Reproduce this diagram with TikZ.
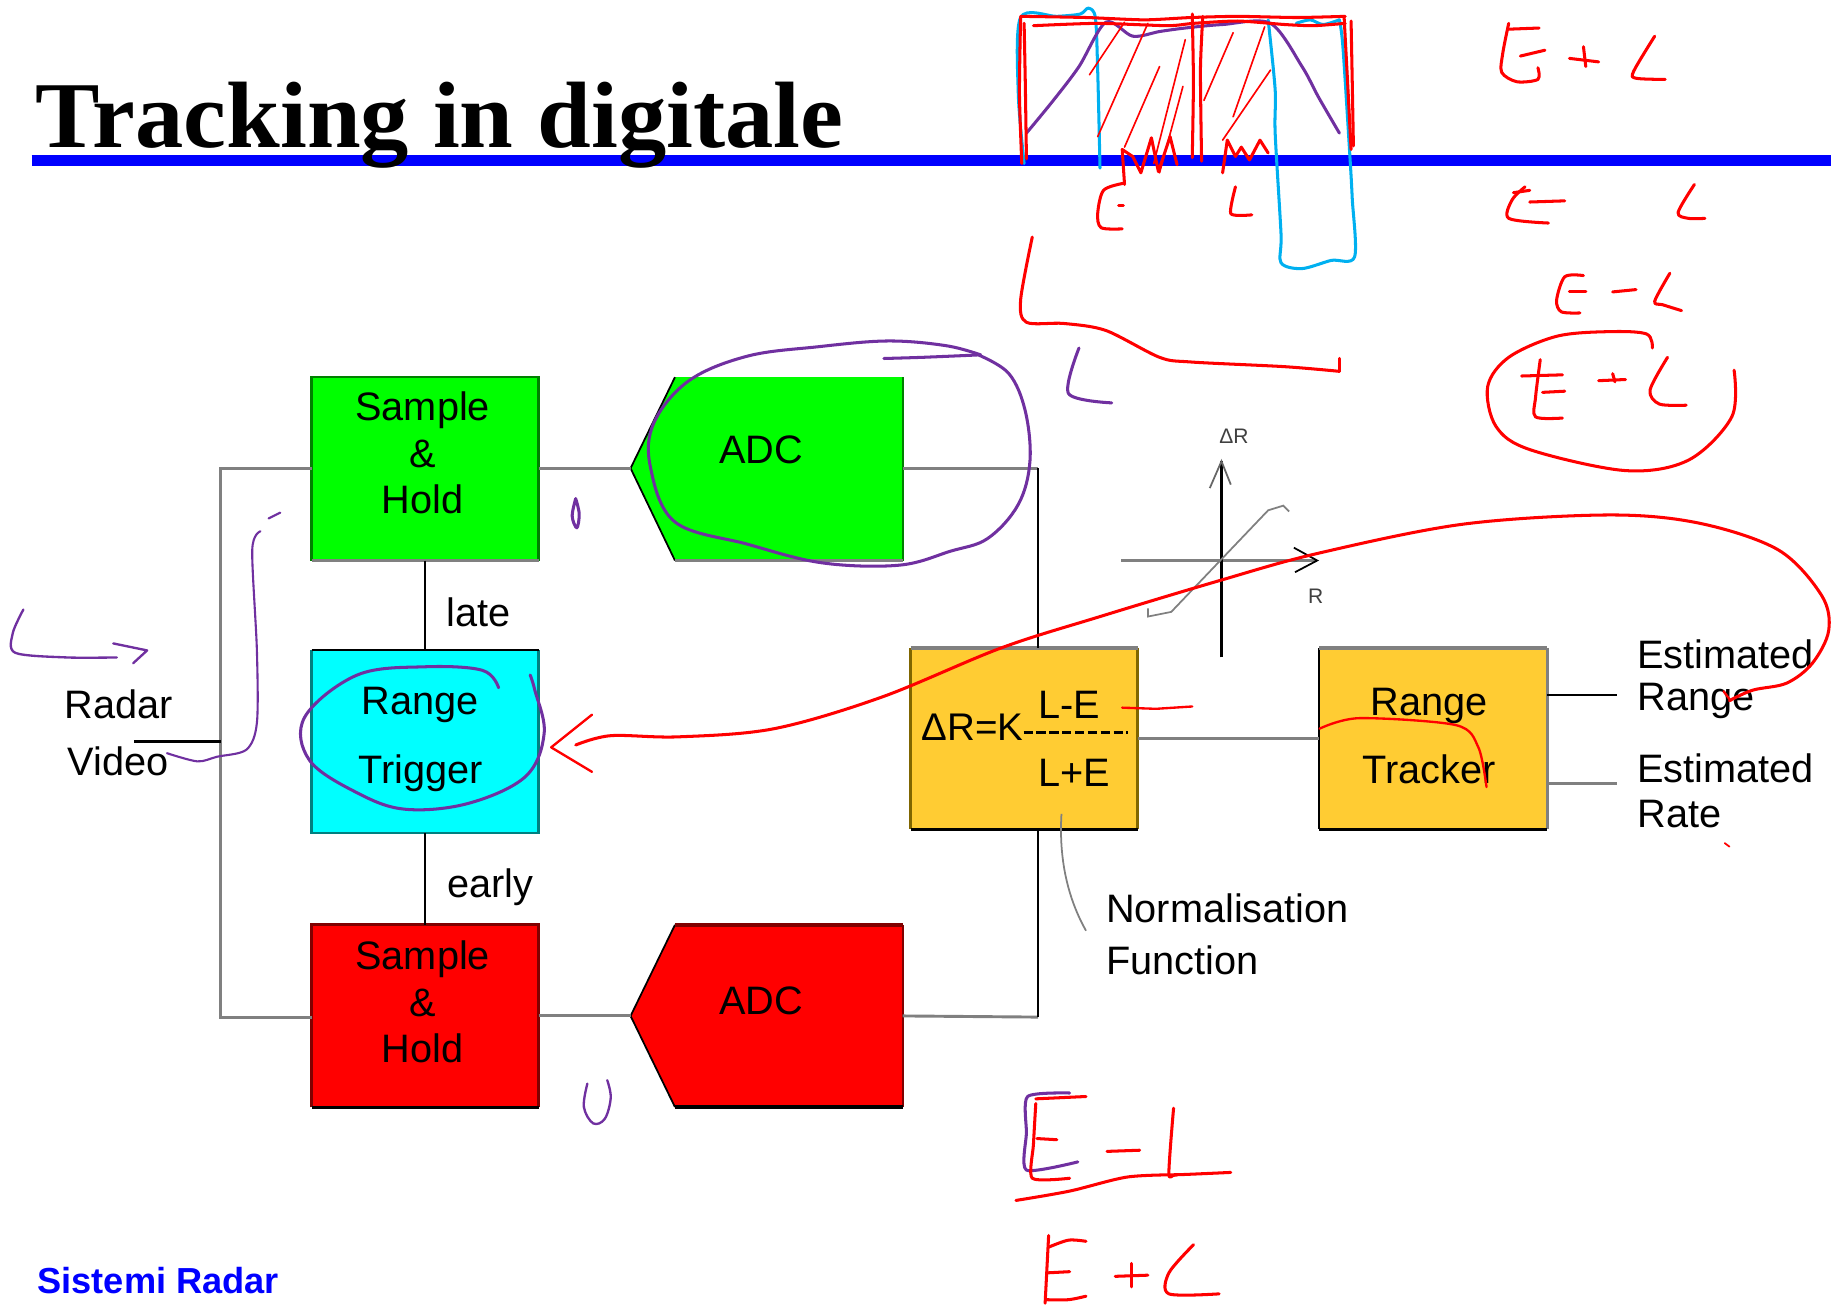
\documentclass[tikz,border=0pt]{standalone}
\usepackage{fontspec}
\setmainfont{Liberation Sans}
\newfontfamily\titlefont{Liberation Serif}
\usepackage{graphicx}
\definecolor{boxgreen}{RGB}{0,255,0}
\definecolor{dkgreen}{RGB}{0,128,0}
\definecolor{boxcyan}{RGB}{0,255,255}
\definecolor{dkteal}{RGB}{0,128,128}
\definecolor{boxred}{RGB}{255,0,0}
\definecolor{dkred}{RGB}{128,0,0}
\definecolor{boxyellow}{RGB}{255,204,51}
\definecolor{dkgold}{RGB}{128,102,0}
\definecolor{lgrey}{RGB}{128,128,128}
\definecolor{titleblue}{RGB}{0,0,255}
\definecolor{penred}{RGB}{255,0,0}
\definecolor{penpurple}{RGB}{112,48,160}
\definecolor{pencyan}{RGB}{0,176,240}
\begin{document}
\begin{tikzpicture}[x=1pt,y=-1pt,
  lbl/.style={font=\fontsize{34}{40}\selectfont, inner sep=0pt, align=center},
  lblw/.style={font=\fontsize{34}{40}\selectfont, inner sep=0pt, anchor=west},
  small/.style={font=\fontsize{18}{20}\selectfont, inner sep=0pt, text=black!75},
  boxshape/.style={draw=none, minimum width=194pt, inner sep=0pt},
  greyline/.style={draw=lgrey, line width=2.5pt},
  blackline/.style={draw=black, line width=2pt},
  thingrey/.style={draw=lgrey, line width=1.5pt},
  redpen/.style={draw=penred, line width=2.6pt, line cap=round, line join=round},
  purplepen/.style={draw=penpurple, line width=2.6pt, line cap=round, line join=round},
  cyanpen/.style={draw=pencyan, line width=2.6pt, line cap=round, line join=round}]
\useasboundingbox (0,0) rectangle (1568,1118);
\clip (0,0) rectangle (1568,1118);
\fill[white] (0,0) rectangle (1568,1118);

% ---------- title ----------
\draw[titleblue, line width=9pt] (27,137.5) -- (1568,137.5);
\node[anchor=base west, inner sep=0pt] (title) at (30,126)
  {\resizebox{692pt}{56pt}{\titlefont\bfseries Tracking in digitale}};
\node[anchor=base west, inner sep=0pt, font=\fontsize{31}{36}\selectfont\bfseries, text=titleblue] (footer) at (32,1108) {Sistemi Radar};

% ---------- boxes ----------
\node[boxshape, fill=boxgreen, minimum height=157pt] (sh1) at (364,401.5) {};
\draw[dkgreen, line width=2pt] (sh1.south west) -- (sh1.north west) -- (sh1.north east) -- (sh1.south east);
\draw[lgrey, line width=3pt] (sh1.south west) -- (sh1.south east);

\node[boxshape, fill=boxcyan, minimum height=156pt] (rt) at (364,635) {};
\draw[dkteal, line width=2pt] (rt.north west) -- (rt.south west) -- (rt.south east) -- (rt.north east);
\draw[black, line width=2pt] (rt.north west) -- (rt.north east);

\node[boxshape, fill=boxred, minimum height=156pt] (sh2) at (364,870) {};
\draw[dkred, line width=2pt] (sh2.south west) -- (sh2.north west) -- (sh2.north east) -- (sh2.south east);
\draw[dkred, line width=3pt] (sh2.north west) -- (sh2.north east);
\draw[black, line width=3pt] (sh2.south west) -- (sh2.south east);

% ADC green
\coordinate (adc1tip) at (540,401);
\coordinate (adc1r) at (773,401);
\fill[boxgreen] (adc1tip) -- (578,323) -- (773,323) -- (773,480) -- (578,480) -- cycle;
\draw[black, line width=1.5pt] (578,323) -- (adc1tip) -- (578,480);
\draw[dkgreen, line width=2pt] (773,323) -- (773,480);
\draw[lgrey, line width=3pt] (578,480) -- (773,480);
% ADC red
\coordinate (adc2tip) at (540,870);
\coordinate (adc2r) at (773,870);
\fill[boxred] (adc2tip) -- (578,792) -- (773,792) -- (773,948) -- (578,948) -- cycle;
\draw[black, line width=1.5pt] (578,792) -- (adc2tip) -- (578,948);
\draw[dkred, line width=3pt] (578,792) -- (773,792);
\draw[dkred, line width=2pt] (773,792) -- (773,948);
\draw[black, line width=3pt] (578,948) -- (773,948);

% normalisation box
\node[boxshape, fill=boxyellow, minimum height=155pt] (nf) at (877,632.5) {};
\draw[dkgold, line width=2pt] (nf.north west) -- (nf.south west) (nf.north east) -- (nf.south east);
\draw[lgrey, line width=3.5pt] (nf.north west) -- (nf.north east);
\draw[black, line width=3pt] (nf.south west) -- (nf.south east);
% tracker box
\node[boxshape, fill=boxyellow, minimum width=195pt, minimum height=155pt] (tr) at (1227.5,632.5) {};
\draw[black, line width=2pt] (tr.north west) -- (tr.south west);
\draw[lgrey, line width=2pt] (tr.north east) -- (tr.south east);
\draw[lgrey, line width=3.5pt] (tr.north west) -- (tr.north east);
\draw[black, line width=3pt] (tr.south west) -- (tr.south east);

% ---------- connectors ----------
\coordinate (lt) at (189,401);
\coordinate (lb) at (189,871);
\coordinate (rtop) at (889,401);
\coordinate (rbot) at (889,871);
\coordinate (rvin) at (115,635);
\coordinate (o1) at (1385,595);
\coordinate (o2) at (1385,671);
\draw[greyline] (sh1.west |- lt) -- (lt) -- (lb) -- (sh2.west |- lb);
\draw[greyline] (sh1.east |- adc1tip) -- (adc1tip);
\draw[greyline] (adc1r) -- (rtop);
\draw[greyline] (sh2.east |- adc2tip) -- (adc2tip);
\draw[greyline] (adc2r) -- (rbot);
\draw[blackline] (rtop) -- (rtop |- nf.north);
\draw[blackline] (rbot) -- (rbot |- nf.south);
\draw[blackline] (rvin) -- (lt |- rvin);
\draw[blackline] (sh1.south) -- (rt.north);
\draw[blackline] (rt.south) -- (sh2.north);
\draw[greyline] (nf.east) -- (tr.west);
\draw[blackline] (tr.east |- o1) -- (o1);
\draw[greyline] (tr.east |- o2) -- (o2);

% ---------- labels ----------
\node[lbl] (t_sh1) at (362,388) {Sample\\\&\\Hold};
\node[lbl] (t_adc1) at (652,385) {ADC};
\node[lbl, font=\fontsize{34}{59}\selectfont] (t_rt) at (360,633) {Range\\Trigger};
\node[lbl] (t_sh2) at (362,858) {Sample\\\&\\Hold};
\node[lbl] (t_adc2) at (652,857) {ADC};
\node[lbl] (t_late) at (410,524) {late};
\node[lbl] (t_early) at (420,760) {early};
\node[lblw] (t_radar) at (55,603) {Radar};
\node[lblw] (t_video) at (58,652) {Video};
\node[lblw, font=\fontsize{33}{40}\selectfont] (t_dr) at (789,623) {ΔR=K};
\node[lblw] (t_le) at (889,604) {L-E};
\node[lblw] (t_lpe) at (889,662) {L+E};
\draw[black, line width=2.5pt, dash pattern=on 8pt off 3pt] (t_dr.east |- 0,627) -- (966,627);
\node[lbl] (t_tr) at (1224,630) {Range\\[18pt]Tracker};
\node[lblw] (t_er1) at (1402,560) {Estimated};
\node[lblw] (t_er2) at (1402,600) {Range};
\node[lblw] (t_es1) at (1402,658) {Estimated};
\node[lblw] (t_es2) at (1402,697) {Rate};
\node[lblw] (t_nf1) at (947,778) {Normalisation};
\node[lblw] (t_nf2) at (947,822) {Function};
\coordinate (lead) at (909,697);
\draw[thingrey] (lead) .. controls (907,730) and (912,765) .. (930,797);

% ---------- small graph ----------
\coordinate (ax0) at (960,480);
\coordinate (ax1) at (1128,480);
\coordinate (ay0) at (1046,563);
\coordinate (ay1) at (1046,395);
\draw[draw=lgrey, line width=2pt] (ax0) -- (ax1);
\draw[black, line width=1.5pt] (1108,469) -- (ax1) -- (1109,490);
\draw[black, line width=2pt] (ay0) -- (ay1);
\draw[black!60, line width=1.5pt] (1036,418) -- (ay1) -- (1054,415);
\draw[thingrey] (983,521) -- (983,528) -- (1003,524) -- (1086,437) -- (1099,433) -- (1104,438);
\node[small, anchor=west] (t_dR) at (1044,374) {ΔR};
\node[small, anchor=west] (t_R) at (1120,511) {R};

% ---------- handwriting: top sketch ----------
\draw[cyanpen] plot[smooth, tension=0.5] coordinates {(877,140) (872,80) (874,15) (905,14) (925,12) (932,7) (938,15) (940,60) (942,144)};
\draw[cyanpen] plot[smooth, tension=0.5] coordinates {(1086,17) (1092,77) (1092,114) (1097,200) (1097,225) (1115,230) (1140,223) (1160,220) (1158,170) (1156,134) (1150,40) (1147,17)};
\draw[cyanpen] plot[smooth, tension=0.5] coordinates {(1110,20) (1122,17) (1133,21) (1147,17)};
\draw[purplepen] plot[smooth, tension=0.5] coordinates {(879,114) (902,86) (924,57) (947,19) (970,31) (993,27) (1015,24) (1047,21) (1088,20) (1115,57) (1129,83) (1147,114)};
% red frame
\draw[redpen] plot[smooth, tension=0.4] coordinates {(875,140) (873,80) (874,15)};
\draw[redpen] plot[smooth, tension=0.4] coordinates {(879,136) (878,70) (877,20)};
\draw[redpen] plot[smooth, tension=0.4] coordinates {(874,14) (930,15) (980,17) (1020,15) (1060,14) (1110,15) (1152,14)};
\draw[redpen] plot[smooth, tension=0.4] coordinates {(885,22) (940,20) (1000,22) (1022,20) (1060,18) (1100,21) (1125,22) (1152,20)};
\draw[redpen] plot[smooth, tension=0.4] coordinates {(1021,135) (1022,70) (1021,12)};
\draw[redpen] plot[smooth, tension=0.4] coordinates {(1029,138) (1028,60) (1030,14)};
\draw[redpen] plot[smooth, tension=0.4] coordinates {(1151,14) (1154,70) (1157,128)};
\draw[redpen] plot[smooth, tension=0.4] coordinates {(1157,18) (1158,70) (1159,125)};
% hatch
\draw[redpen, line width=1.4pt] (933,64) -- (963,19);
\draw[redpen, line width=1.4pt] (940,117) -- (983,20);
\draw[redpen, line width=1.4pt] (963,126) -- (993,57);
\draw[redpen, line width=1.4pt] (988,140) -- (1015,34);
\draw[redpen, line width=1.4pt] (993,148) -- (1013,74);
\draw[redpen, line width=1.4pt] (1031,86) -- (1056,28);
\draw[redpen, line width=1.4pt] (1056,100) -- (1083,23);
\draw[redpen, line width=1.4pt] (1047,120) -- (1088,60);
% zigzags
\draw[redpen] (963,158) -- (961,128) -- (970,134) -- (977,148) -- (986,118) -- (992,147) -- (1002,117) -- (1008,141);
\draw[redpen] (1047,148) -- (1051,120) -- (1058,134) -- (1063,126) -- (1070,137) -- (1079,120) -- (1086,131);
% E and L under line
\draw[redpen] plot[smooth, tension=0.5] coordinates {(962,157) (945,163) (940,183) (943,195) (961,196)};
\draw[redpen] (958,176) -- (962,176);
\draw[redpen] plot[smooth, tension=0.4] coordinates {(1058,160) (1054,183) (1072,184)};
% big red L shape
\draw[redpen] plot[smooth, tension=0.5] coordinates {(884,203) (874,257) (879,276) (911,277) (947,283) (993,306) (1020,310) (1100,314) (1147,318)};
\draw[redpen] (1147,318) -- (1147,307);
% purple L
\draw[purplepen] plot[smooth, tension=0.5] coordinates {(924,298) (915,337) (952,345)};

% ---------- handwriting: right column ----------
% E + L
\draw[redpen] plot[smooth, tension=0.5] coordinates {(1292,20) (1287,45) (1286,62) (1299,70) (1317,68) (1317,58)};
\draw[redpen] (1292,25) -- (1318,24);
\draw[redpen] (1302,48) -- (1323,43);
\draw[redpen] (1344,50) -- (1369,53);
\draw[redpen] (1356,40) -- (1358,57);
\draw[redpen] plot[smooth, tension=0.5] coordinates {(1417,31) (1399,61) (1401,67) (1426,68)};
% E   L
\draw[redpen] plot[smooth, tension=0.5] coordinates {(1306,160) (1295,171) (1292,187) (1326,191)};
\draw[redpen] (1296,165) -- (1310,163);
\draw[redpen] (1310,173) -- (1340,172);
\draw[redpen] plot[smooth, tension=0.5] coordinates {(1451,158) (1437,182) (1446,187) (1460,187)};
% E - L
\draw[redpen] plot[smooth, tension=0.5] coordinates {(1356,236) (1340,237) (1333,257) (1337,267) (1353,268)};
\draw[redpen] (1344,250) -- (1358,250);
\draw[redpen] (1381,250) -- (1401,248);
\draw[redpen] plot[smooth, tension=0.5] coordinates {(1430,234) (1417,258) (1424,261) (1440,266)};
% circled E + L
\draw[redpen] (1303,322) -- (1338,321);
\draw[redpen] plot[smooth, tension=0.5] coordinates {(1319,308) (1315,340) (1315,357) (1338,358)};
\draw[redpen] (1321,336) -- (1340,335);
\draw[redpen] (1369,326) -- (1392,325);
\draw[redpen] (1381,320) -- (1383,327);
\draw[redpen] plot[smooth, tension=0.5] coordinates {(1428,306) (1413,334) (1421,346) (1444,347)};
\draw[redpen] plot[smooth, tension=0.55] coordinates {(1415,298) (1410,286) (1378,284) (1333,288) (1292,306) (1274,331) (1281,365) (1310,385) (1392,403) (1446,394) (1483,357) (1485,317)};

% ---------- handwriting: diagram area ----------
% purple loop around green ADC
\draw[purplepen] plot[smooth, tension=0.6] coordinates {(838,304) (864,320) (878,352) (882,395) (872,432) (846,461) (814,472) (770,484) (704,482) (640,466) (578,447) (557,400) (560,362) (590,326) (640,305) (700,297) (760,292) (810,296) (840,304)};
\draw[purplepen] plot[smooth, tension=0.5] coordinates {(757,307) (790,306) (837,304)};
% purple loop around range trigger
\draw[purplepen] plot[smooth, tension=0.6] coordinates {(427,589) (413,574) (364,571) (306,578) (261,614) (265,651) (306,679) (347,693) (401,688) (450,665) (466,628) (458,591) (454,578)};
% purple strokes on left
\draw[purplepen, line width=1.8pt] (230,444) -- (240,439);
\draw[purplepen, line width=1.8pt] plot[smooth, tension=0.5] coordinates {(223,455) (216,471) (220,557) (220,619) (211,642) (186,648) (169,652) (143,645)};
\draw[purplepen, line width=2pt] plot[smooth, tension=0.5] coordinates {(20,522) (11,542) (13,559) (57,563) (100,563)};
\draw[purplepen, line width=2pt] (97,551) -- (126,557) -- (114,568);
% small purple marks
\draw[purplepen] plot[smooth, tension=0.6] coordinates {(493,427) (490,442) (494,452) (496,440) (493,427)};
\draw[purplepen, line width=2pt] plot[smooth, tension=0.6] coordinates {(503,928) (500,948) (508,962) (518,958) (523,940) (520,925)};

% big red arrow curve
\draw[redpen] plot[smooth, tension=0.55] coordinates {(493,638) (523,630) (581,631) (663,624) (755,597) (857,555) (942,528) (1045,497) (1128,474) (1252,449) (1377,441) (1455,448) (1523,471) (1560,510) (1566,540) (1552,568) (1530,585) (1501,591) (1481,600)};
\draw[redpen, line width=2pt] (507,612) -- (472,640) -- (507,661);
\draw[redpen, line width=2pt] (1476,592) -- (1482,600);
% red marks on yellow boxes
\draw[redpen, line width=2pt] (961,606) -- (990,607) -- (1021,605);
\draw[redpen, line width=2pt] plot[smooth, tension=0.5] coordinates {(1130,624) (1164,615) (1247,621) (1266,640) (1273,674)};
\draw[redpen, line width=1.5pt] (1477,722) -- (1481,725);

% bottom E - L / E + L
\draw[purplepen] plot[smooth, tension=0.4] coordinates {(916,936) (880,939) (879,970) (879,1002) (923,995)};
\draw[redpen] (887,941) -- (930,939);
\draw[redpen] plot[smooth, tension=0.4] coordinates {(887,945) (885,980) (884,1009) (916,1009)};
\draw[redpen] (888,975) -- (905,976);
\draw[redpen] (948,986) -- (976,985);
\draw[redpen] plot[smooth, tension=0.4] coordinates {(1005,949) (1001,1005) (1008,1006) (1054,1004)};
\draw[redpen] plot[smooth, tension=0.5] coordinates {(870,1028) (916,1020) (965,1008) (1008,1006)};
\draw[redpen] (898,1058) -- (895,1116);
\draw[redpen] plot[smooth, tension=0.5] coordinates {(898,1068) (915,1062) (930,1063)};
\draw[redpen] (897,1090) -- (916,1089);
\draw[redpen] plot[smooth, tension=0.5] coordinates {(896,1113) (915,1113) (930,1110)};
\draw[redpen] (955,1093) -- (983,1092);
\draw[redpen] (969,1082) -- (969,1102);
\draw[redpen] plot[smooth, tension=0.5] coordinates {(1022,1066) (1001,1090) (1001,1108) (1044,1108)};
\end{tikzpicture}
\end{document}
